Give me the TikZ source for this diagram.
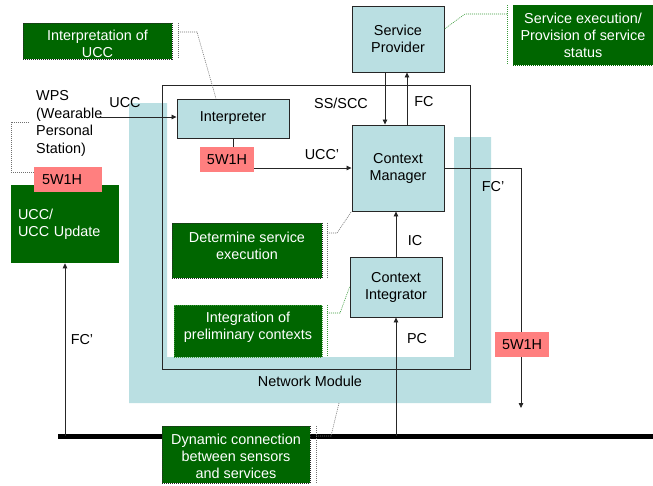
\documentclass[tikz,border=0pt]{standalone}
\usepackage{fontspec}
\setmainfont{Liberation Sans}
\usetikzlibrary{arrows.meta,calc}
\definecolor{bandblue}{HTML}{BADFE2}
\definecolor{notegreen}{HTML}{006600}
\definecolor{tagred}{HTML}{FF7F7F}
\definecolor{edge}{HTML}{262626}
\definecolor{leadgray}{HTML}{707070}
\definecolor{leadgreen}{HTML}{3A9A3A}

\begin{document}
\begin{tikzpicture}[x=1pt,y=-1pt,
  font=\fontsize{14.4}{17}\selectfont,
  every node/.style={inner sep=0pt},
  arr/.style={draw=edge, line width=0.8pt, -{Triangle[length=5pt,width=4.5pt]}},
  link/.style={draw=edge, line width=0.8pt},
  unit/.style={draw=edge, line width=0.9pt, fill=bandblue, align=center},
  tag/.style={fill=tagred, align=center, minimum height=25pt},
  note/.style={fill=notegreen, text=white, align=center, dash pattern=on 1pt off 1pt, line width=0.6pt},
  notetext/.style={text=white, align=center},
  lead/.style={line width=0.6pt, dash pattern=on 1pt off 1pt}
]
\useasboundingbox (0,0) rectangle (653,485);

% Network module band
\fill[bandblue] (129,103) -- (167,103) -- (167,357) -- (454,357) -- (454,137)
  -- (491,137) -- (491,403) -- (129,403) -- cycle;

% SS/SCC frame
\draw[edge, line width=0.9pt] (162,85) rectangle (470,369);

% system units
\node[unit, minimum width=112pt, minimum height=39pt] (interp) at (233,118.5) {Interpreter};
\node[unit, minimum width=92pt, minimum height=86pt] (cm) at (398,168) {Context\\Manager};
\node[unit, minimum width=92pt, minimum height=66pt] (sp) at (398,39) {Service\\Provider};
\node[unit, minimum width=92pt, minimum height=60pt] (ci) at (396,287) {Context\\Integrator};

% bus
\coordinate (busL) at (58,436);
\coordinate (busR) at (653,436);
\draw[black, line width=5pt] (busL) -- (busR);

% left client side
\node[note, draw=none, minimum width=108pt, minimum height=78pt, align=left,
      text width=94pt, inner xsep=7pt] (ucc) at (65,224) {UCC/\\UCC Update};
\node[tag, minimum width=68pt, align=left, text width=52pt, inner xsep=8pt] (w5L) at (68,179.5) {5W1H};
\node[anchor=west, align=left, font=\fontsize{14.4}{17.6}\selectfont] (wps) at (36,123.5)
  {WPS\\(Wearable\\Personal\\Station)};
\coordinate (wpsOut) at (100,117);
\draw[arr] (wpsOut) -- (interp.west |- wpsOut);
\draw[arr] (ucc.south |- busL) -- (ucc.south);

% tags
\node[tag, minimum width=54pt] (w5) at (227,159.5) {5W1H};
\draw[link] (interp.south) -- (interp.south |- w5.north);
\draw[arr] (w5.east |- cm.west) -- (cm.west);

% provider links
\draw[arr] ([xshift=-13pt]sp.south) -- ([xshift=-13pt]cm.north);
\draw[arr] ([xshift=9pt]cm.north) -- ([xshift=9pt]sp.south);
\draw[arr] (ci.north) -- (ci.north |- cm.south);
\draw[arr] (ci.south |- busL) -- (ci.south);

% feedback out of the manager
\coordinate (fcEnd) at (521,408);
\draw[arr] (cm.east) -| (fcEnd);
\node[tag, minimum width=54pt] (w5R) at (522,344.5) {5W1H};

% labels
\node (uccLbl) at (125,103) {UCC};
\node (sscc) at (341,103) {SS/SCC};
\node (uccp) at (322,155) {UCC'};
\node (fc) at (424,102) {FC};
\node (fcp) at (493,187) {FC'};
\node (ic) at (415,241) {IC};
\node (pc) at (417,339) {PC};
\node (fcpL) at (82,340) {FC'};
\node (netmod) at (310,381) {Network Module};

% annotations
\node[note, draw=edge, minimum width=149pt, minimum height=36pt] (nInterp) at (97.5,41) {};
\node[notetext] (nInterpText) at (97.5,44) {Interpretation of\\UCC};
\draw[lead, leadgray] (178,23) -- (178,58);
\draw[lead, leadgray] (178,32) -- (197,32) -- ([xshift=-17pt]interp.north);

\node[note, draw=notegreen, minimum width=140pt, minimum height=60pt] (nServ) at (583,35)
  {Service execution/\\Provision of service\\status};
\draw[lead, leadgreen] (507,5) -- (507,64);
\draw[lead, leadgreen] (507,14) -- (465,14) -- ([yshift=10pt]sp.east);

\node[note, draw=edge, minimum width=150pt, minimum height=55pt] (nDet) at (247,250.5) {};
\node[notetext] (nDetText) at (247,246) {Determine service\\execution};
\draw[lead, leadgray] (327,223) -- (327,278);
\draw[lead, leadgray] (327,233) -- (337,233) -- (cm.south west);

\node[note, draw=leadgreen, minimum width=148pt, minimum height=52pt] (nInt) at (248,331) {};
\node[notetext] (nIntText) at (248,327) {Integration of\\preliminary contexts};
\draw[lead, leadgreen] (327,305) -- (327,357);
\draw[lead, leadgreen] (327,313) -- (340,313) -- (ci.west);

\node[note, draw=edge, minimum width=148pt, minimum height=57pt] (nDyn) at (236,454.5) {};
\node[notetext] (nDynText) at (236,456) {Dynamic connection\\between sensors\\and services};
\coordinate (bandFoot) at (339,403);
\draw[lead, leadgray] (316,426) -- (316,483);
\draw[lead, leadgray] (316,436) -- (331,436) -- (bandFoot);

% bracket from the wearable station
\draw[lead, leadgray] (29,122) -- (11,122) -- (11,172) -- (w5L.west |- 0,172);
\end{tikzpicture}
\end{document}
